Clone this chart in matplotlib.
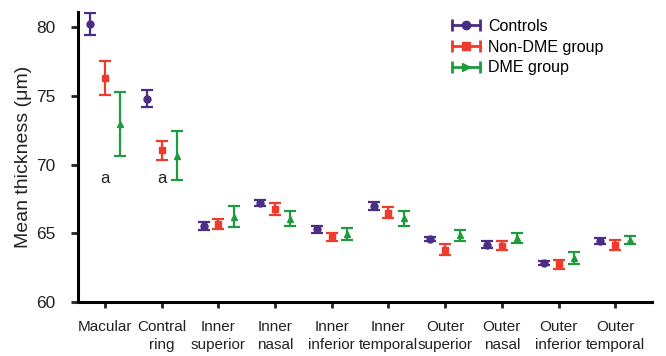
import matplotlib.pyplot as plt
import numpy as np
from matplotlib.legend_handler import HandlerBase
from matplotlib.lines import Line2D

plt.rcParams['font.family'] = ['Liberation Sans', 'DejaVu Sans']

# data
regions = ['Macular', 'Contral\nring', 'Inner\nsuperior', 'Inner\nnasal', 'Inner\ninferior',
           'Inner\ntemporal', 'Outer\nsuperior', 'Outer\nnasal', 'Outer\ninferior', 'Outer\ntemporal']
controls = [80.2, 74.8, 65.55, 67.2, 65.3, 67.0, 64.55, 64.15, 62.85, 64.42]
controls_err = [0.8, 0.6, 0.3, 0.25, 0.25, 0.3, 0.15, 0.25, 0.15, 0.2]
non_dme = [76.3, 71.05, 65.65, 66.75, 64.73, 66.5, 63.8, 64.1, 62.73, 64.15]
non_dme_err = [1.25, 0.7, 0.35, 0.45, 0.3, 0.4, 0.4, 0.3, 0.35, 0.35]
dme = [72.95, 70.65, 66.2, 66.05, 64.95, 66.1, 64.85, 64.63, 63.2, 64.5]
dme_err = [2.35, 1.8, 0.75, 0.55, 0.45, 0.55, 0.4, 0.35, 0.45, 0.3]
sig_labels = ['a', 'a'] + [''] * 8

names = ['Controls', 'Non-DME group', 'DME group']
colors = ['#4a2d85', '#ee3b2c', '#1f9b3d']
markers = ['o', 's', '^']
legend_markers = ['o', 's', '>']
offsets = [-0.26, 0.0, 0.27]


class HBarHandler(HandlerBase):
    def __init__(self, marker):
        super().__init__()
        self.marker = marker

    def create_artists(self, legend, orig, xd, yd, w, h, fs, trans):
        c = orig.get_color()
        y = h / 2 - yd
        line = Line2D([-xd, w - xd], [y, y], color=c, lw=2, transform=trans)
        caps = Line2D([-xd, w - xd], [y, y], color=c, lw=0, marker='|',
                      markersize=9, markeredgewidth=2, transform=trans)
        mk = Line2D([(w) / 2 - xd], [y], color=c, lw=0, marker=self.marker,
                    markersize=6, transform=trans)
        return [line, caps, mk]


fig = plt.figure(figsize=(6.66, 3.56), dpi=100)
ax = fig.add_axes([0.117, 0.152, 0.862, 0.814])

x = np.arange(len(regions))
series = [(controls, controls_err), (non_dme, non_dme_err), (dme, dme_err)]
handles = []
handler_map = {}
for (vals, errs), name, c, m, lm, off in zip(series, names, colors, markers, legend_markers, offsets):
    ax.errorbar(x + off, vals, yerr=errs, fmt=m, color=c, ecolor=c, markersize=5,
                elinewidth=1.6, capsize=4.5, capthick=1.6)
    h = Line2D([], [], color=c, label=name)
    handles.append(h)
    handler_map[h] = HBarHandler(lm)

for xi, s in zip(x, sig_labels):
    if s:
        ax.text(xi, 69.0, s, ha='center', va='center', fontsize=12, color='#222222')

ax.set_xlim(-0.48, 9.65)
ax.set_ylim(60, 81.1)
ax.set_yticks([60, 65, 70, 75, 80])
ax.set_xticks(x)
ax.set_xticklabels(regions, fontsize=11, color='#222222', linespacing=1.35)
ax.tick_params(axis='y', labelsize=12.5, length=5, width=2, pad=11, colors='#222222')
ax.tick_params(axis='x', length=4, width=2, pad=9, colors='#222222')
ax.set_ylabel('Mean thickness (μm)', fontsize=14, color='#222222', labelpad=3)
for sp in ['top', 'right']:
    ax.spines[sp].set_visible(False)
for sp in ['left', 'bottom']:
    ax.spines[sp].set_linewidth(2.2)

ax.legend(handles=handles, handler_map=handler_map, loc='upper left',
          bbox_to_anchor=(0.626, 1.026), frameon=False, fontsize=11.5,
          handlelength=1.8, labelspacing=0.35, handletextpad=0.5)

fig.savefig('out.png', dpi=100)
